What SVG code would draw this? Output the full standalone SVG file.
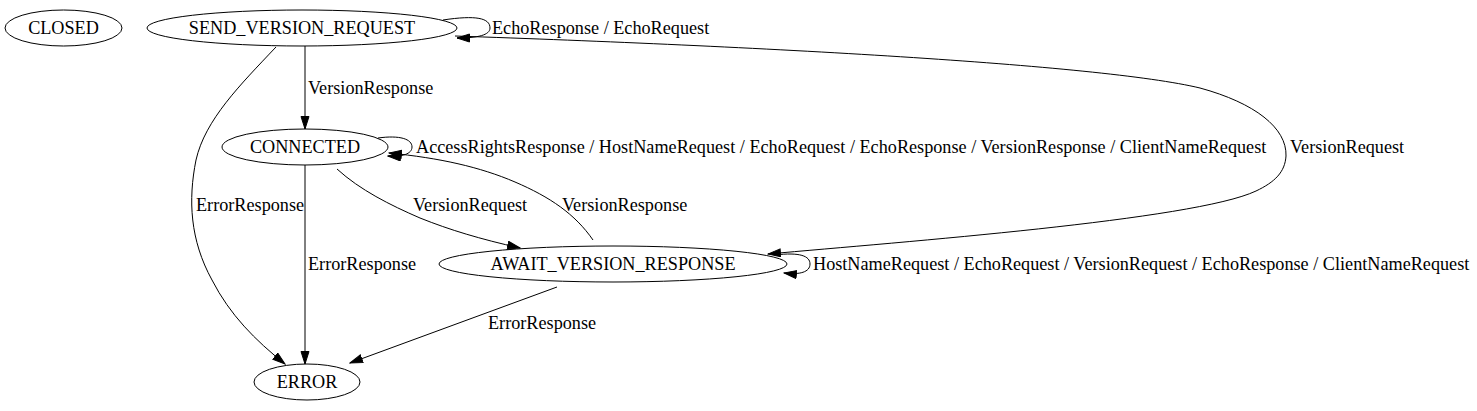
<svg xmlns="http://www.w3.org/2000/svg" width="1477" height="411" viewBox="0 0 1477 411">
<style>
.node ellipse{fill:none;stroke:#000;stroke-width:1}
text{font-family:"Liberation Serif","Times New Roman",serif;font-size:18.2px;fill:#000}
.node text{text-anchor:middle}
.edges path{fill:none;stroke:#000;stroke-width:1}
</style>
<defs>
<marker id="arr" markerUnits="userSpaceOnUse" markerWidth="14" markerHeight="10" refX="13" refY="4.5" orient="auto">
<path d="M0.5,0.5 L13,4.5 L0.5,8.5 z" fill="#000" stroke="#000" stroke-width="1"/>
</marker>
</defs>
<rect width="1477" height="411" fill="#fff"/>
<g id="CLOSED" class="node"><ellipse cx="63.5" cy="28" rx="58.5" ry="18"/><text x="63.5" y="34">CLOSED</text></g>
<g id="SEND_VERSION_REQUEST" class="node"><ellipse cx="302" cy="28" rx="155" ry="18"/><text x="302" y="34">SEND_VERSION_REQUEST</text></g>
<g id="CONNECTED" class="node"><ellipse cx="305" cy="147" rx="83" ry="18"/><text x="305" y="153">CONNECTED</text></g>
<g id="AWAIT_VERSION_RESPONSE" class="node"><ellipse cx="613" cy="264" rx="174" ry="18"/><text x="613" y="270">AWAIT_VERSION_RESPONSE</text></g>
<g id="ERROR" class="node"><ellipse cx="307" cy="382" rx="53" ry="18"/><text x="307" y="388">ERROR</text></g>
<g id="edges" class="edges">
<path d="M443,20 C476,15 490,18 490,28 C490,35 478,38 457,38" marker-end="url(#arr)"/>
<text x="492" y="34">EchoResponse / EchoRequest</text>
<path d="M305,46 L305,129" marker-end="url(#arr)"/>
<text x="308" y="94">VersionResponse</text>
<path d="M276,47 C240,85 205,120 196,160 C188,200 190,240 212,280 C230,315 255,340 285,364" marker-end="url(#arr)"/>
<text x="196" y="211">ErrorResponse</text>
<path d="M455,36 C750,46 1100,64 1200,88 C1255,103 1287,128 1286,156 C1285,172 1275,182 1256,191 C1195,220 900,242 768,254" marker-end="url(#arr)"/>
<text x="1290" y="153">VersionRequest</text>
<path d="M378,138 C400,135 412,139 412,147 C412,154 402,157 388,156" marker-end="url(#arr)"/>
<text x="416" y="153">AccessRightsResponse / HostNameRequest / EchoRequest / EchoResponse / VersionResponse / ClientNameRequest</text>
<path d="M305,165 L305,364" marker-end="url(#arr)"/>
<text x="308" y="270">ErrorResponse</text>
<path d="M337,169 C360,190 390,205 420,218 C450,230 480,239 520,248" marker-end="url(#arr)"/>
<text x="413" y="211">VersionRequest</text>
<path d="M593,240 C575,214 550,197 515,182 C480,167 440,158 389,153" marker-end="url(#arr)"/>
<text x="562" y="211">VersionResponse</text>
<path d="M775,255 C800,252 810,256 810,264 C810,272 800,275 784,273" marker-end="url(#arr)"/>
<text x="813" y="270">HostNameRequest / EchoRequest / VersionRequest / EchoResponse / ClientNameRequest</text>
<path d="M557,287 L350,363" marker-end="url(#arr)"/>
<text x="488" y="329">ErrorResponse</text>
</g>
</svg>
